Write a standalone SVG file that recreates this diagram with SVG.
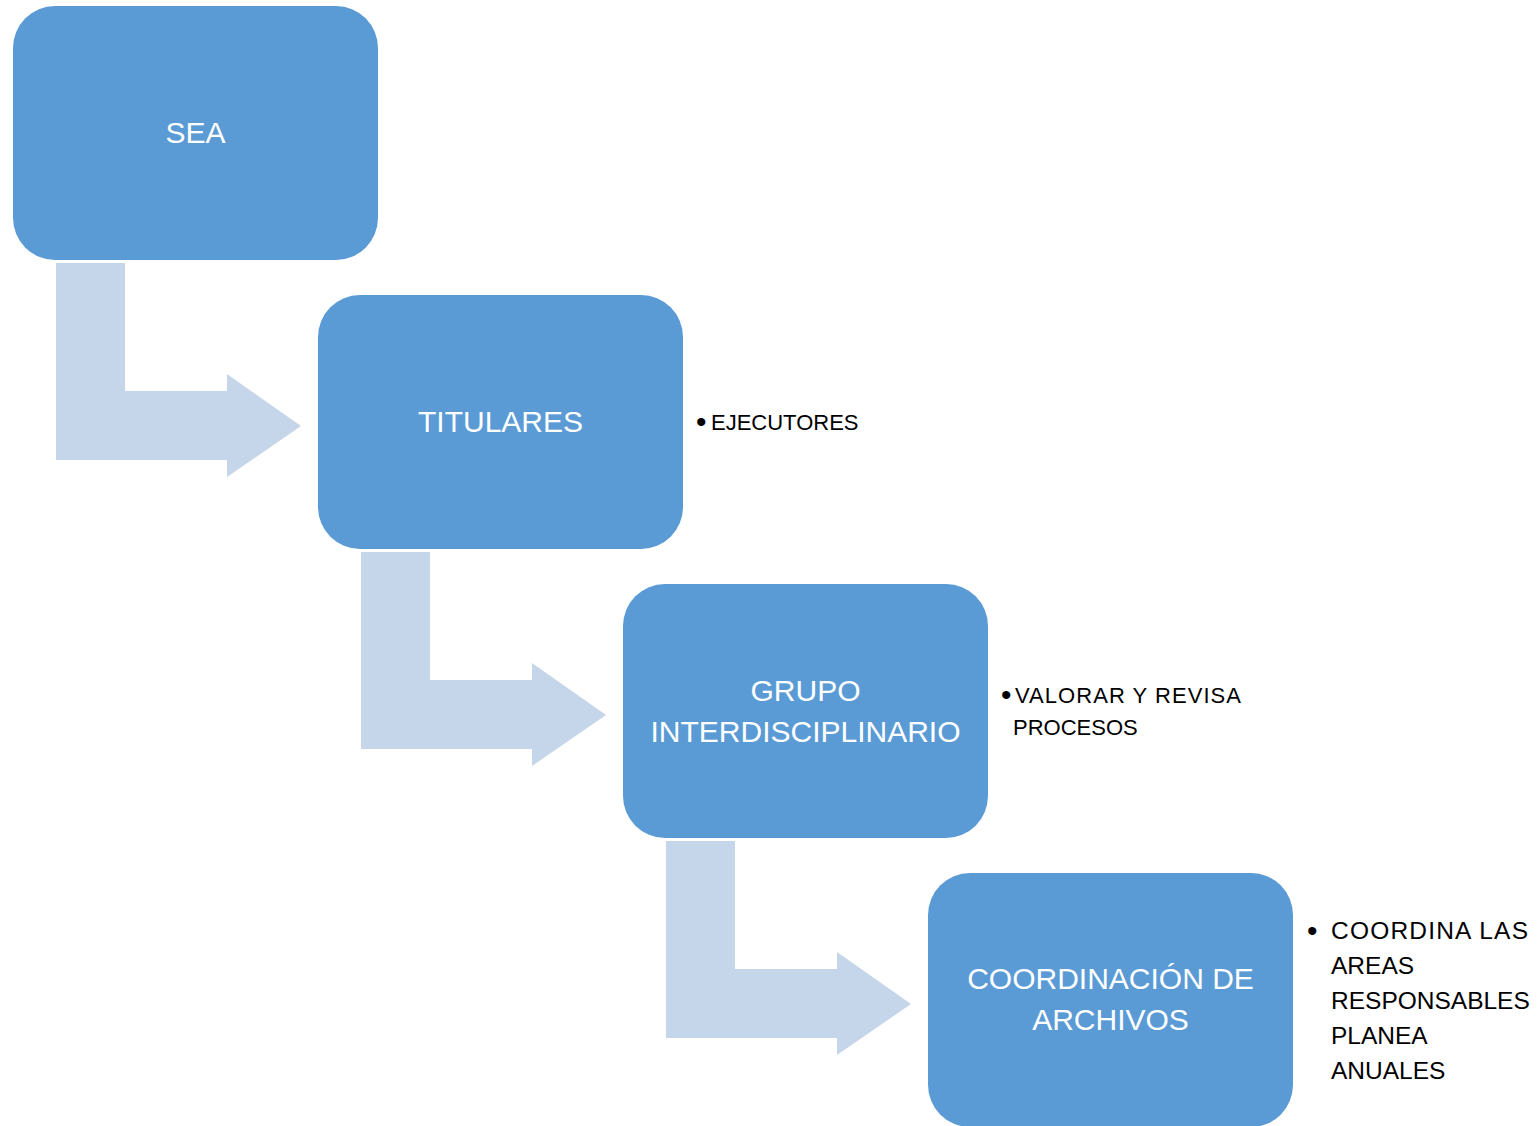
<svg xmlns="http://www.w3.org/2000/svg" width="1540" height="1126" viewBox="0 0 1540 1126">
<style>
.box{fill:#5B9BD5}
.arr{fill:#C5D5EA}
.lbl{font-family:"Liberation Sans",Arial,sans-serif;font-size:30px;fill:#FFFFFF;text-anchor:middle}
.side{font-family:"Liberation Sans",Arial,sans-serif;font-size:22px;fill:#000000}
.side2{font-family:"Liberation Sans",Arial,sans-serif;font-size:24.5px;fill:#000000}
.bul{font-size:30px}
</style>
<rect width="1540" height="1126" fill="#FFFFFF"/>
<g id="connectors">
<path class="arr" d="M56,263 L125,263 L125,391 L227,391 L227,374 L301,426 L227,477 L227,460 L56,460 Z"/>
<path class="arr" d="M361,552 L430,552 L430,680 L532,680 L532,663 L606,715 L532,766 L532,749 L361,749 Z"/>
<path class="arr" d="M666,841 L735,841 L735,969 L837,969 L837,952 L911,1004 L837,1055 L837,1038 L666,1038 Z"/>
</g>
<g id="node-sea">
<rect class="box" x="13" y="6" width="365" height="254" rx="42" ry="42"/>
<text class="lbl" x="195.5" y="143">SEA</text>
</g>
<g id="node-titulares">
<rect class="box" x="318" y="295" width="365" height="254" rx="42" ry="42"/>
<text class="lbl" x="500.5" y="432">TITULARES</text>
<text class="side" x="696" y="432"><tspan class="bul">•</tspan><tspan x="711" y="430">EJECUTORES</tspan></text>
</g>
<g id="node-grupo">
<rect class="box" x="623" y="584" width="365" height="254" rx="42" ry="42"/>
<text class="lbl" x="805.5" y="701">GRUPO</text>
<text class="lbl" x="805.5" y="742">INTERDISCIPLINARIO</text>
<text class="side" x="1001" y="705"><tspan class="bul">•</tspan><tspan x="1015" y="703" textLength="226">VALORAR Y REVISA</tspan></text>
<text class="side" x="1013" y="735">PROCESOS</text>
</g>
<g id="node-coordinacion">
<rect class="box" x="928" y="873" width="365" height="254" rx="42" ry="42"/>
<text class="lbl" x="1110.5" y="989">COORDINACIÓN DE</text>
<text class="lbl" x="1110.5" y="1030">ARCHIVOS</text>
<text class="side2" x="1307" y="941"><tspan class="bul">•</tspan><tspan x="1331" y="939" textLength="197">COORDINA LAS</tspan></text>
<text class="side2" x="1331" y="974">AREAS</text>
<text class="side2" x="1331" y="1009">RESPONSABLES</text>
<text class="side2" x="1331" y="1044">PLANEA</text>
<text class="side2" x="1331" y="1079">ANUALES</text>
</g>
</svg>
